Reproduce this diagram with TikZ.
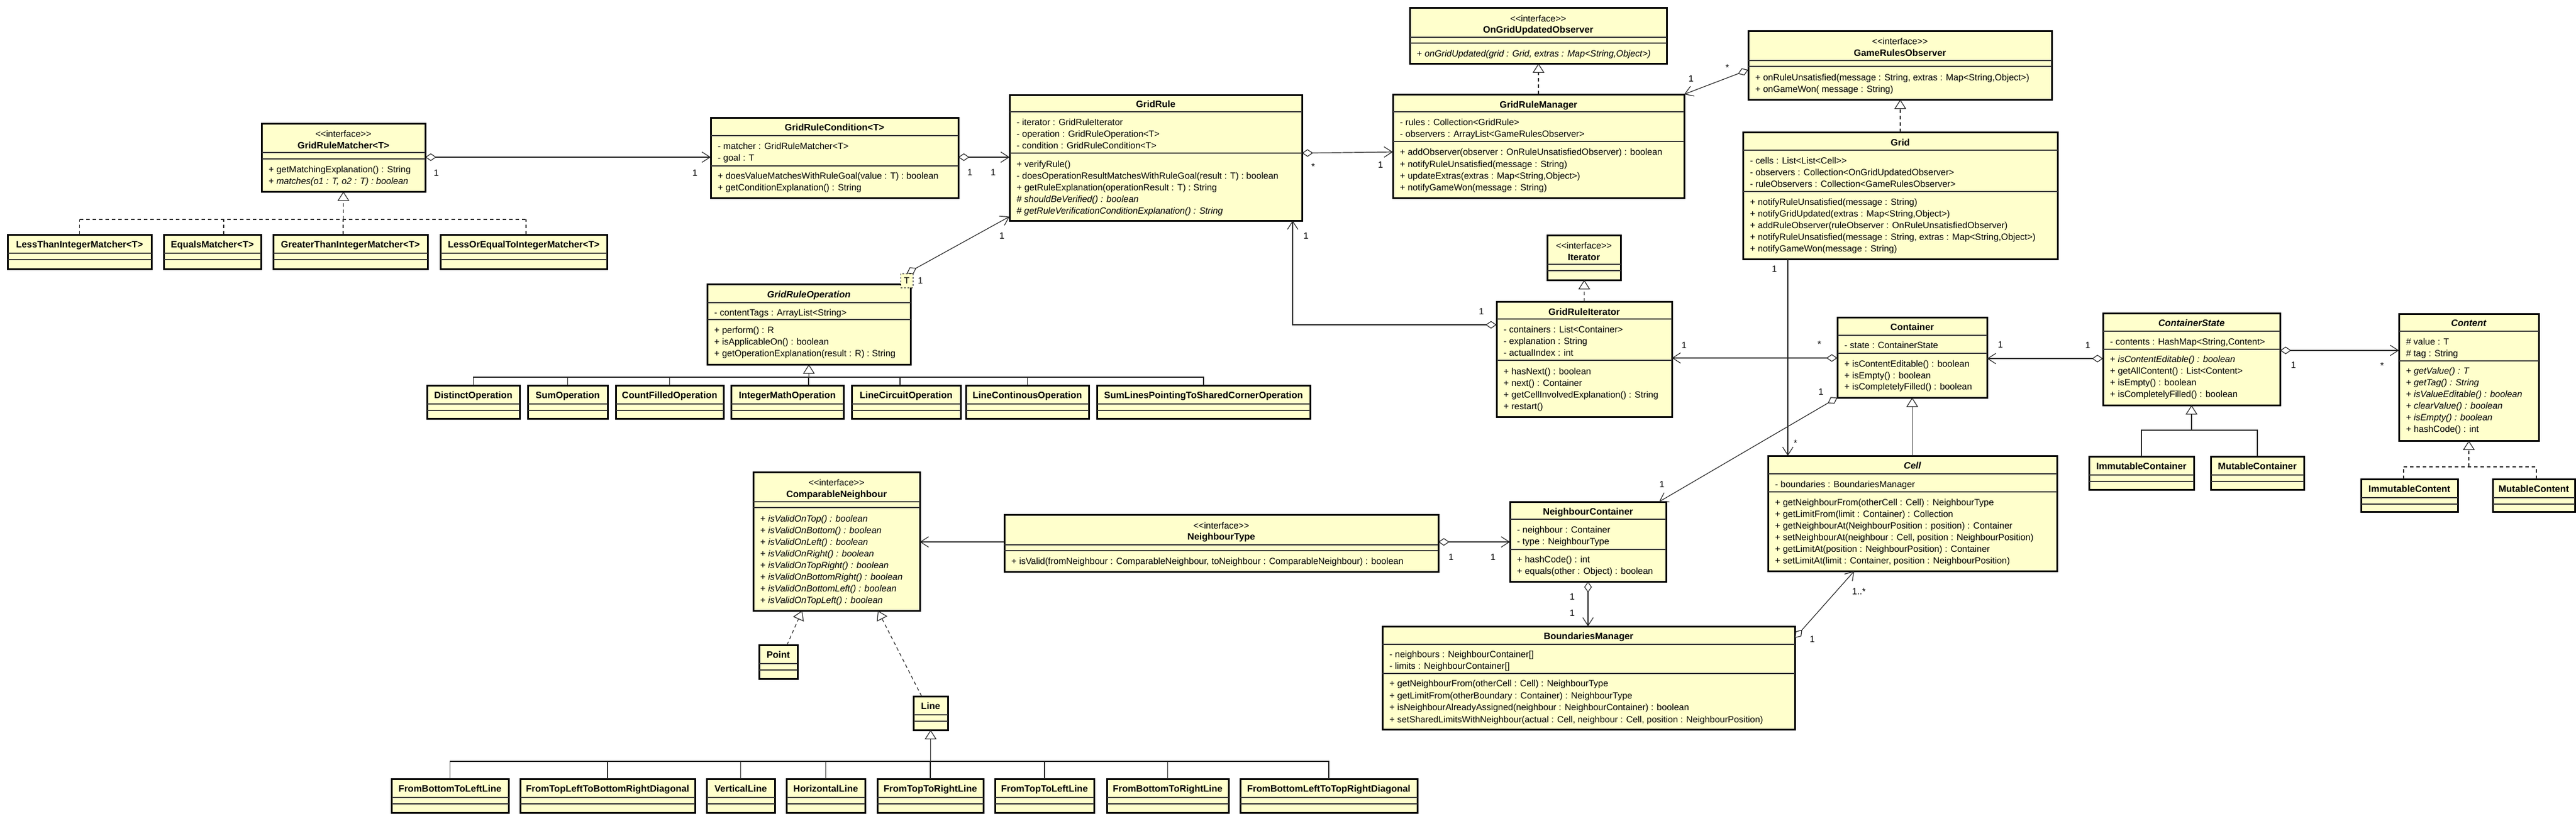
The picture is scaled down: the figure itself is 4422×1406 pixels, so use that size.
\documentclass[tikz,border=0pt]{standalone}
\usepackage{fontspec}
\setmainfont{Liberation Sans}
\usetikzlibrary{arrows.meta}
\definecolor{clsfill}{RGB}{255,255,204}
\tikzset{
  every node/.style={font=\fontsize{15.5pt}{18pt}\selectfont},
  cbox/.style={draw=black, line width=3pt, fill=clsfill, rectangle, inner sep=0pt, outer sep=0pt},
  divl/.style={draw=black!80, line width=1.3pt},
  ltxt/.style={inner sep=0pt, anchor=base west},
  ctxt/.style={inner sep=0pt, anchor=base},
  labtxt/.style={inner sep=0pt, anchor=center},
  conn/.style={draw=black!85, line width=1.2pt},
  nav/.style={conn, -{Straight Barb[length=14pt,width=18pt]}},
  agg/.style={conn, {Diamond[length=19pt,width=13pt,fill=white]}-{Straight Barb[length=14pt,width=18pt]}},
  gen/.style={conn, -{Triangle[length=16pt,width=20pt,fill=white]}},
  real/.style={gen, dash pattern=on 6pt off 5pt},
  dtree/.style={conn, dash pattern=on 6pt off 5pt},
  tparam/.style={draw=black, dashed, line width=1pt, fill=clsfill, minimum width=21pt, minimum height=24pt, inner sep=0pt}
}
\newcommand\umlname[1]{{\fontsize{16pt}{18pt}\selectfont\textbf{#1}}}
\newcommand\umlbox[5]{\node[cbox, minimum width={(#4-#2)*1pt}, minimum height={(#5-#3)*1pt}] (#1) at ({(#2+#4)/2},{(#3+#5)/2}) {};}
\newcommand\umldiv[2]{\draw[divl] (#1.west |- 0,#2) -- (#1.east |- 0,#2);}
\newcommand\umltxt[4]{\node[ltxt, xshift=12pt, yshift=-5.5pt] (#1) at (#2.west |- 0,#3) {#4};}
\newcommand\umlctr[4]{\node[ctxt, yshift=-5.5pt] (#1) at (#2.center |- 0,#3) {#4};}
\newcommand\umllab[4]{\node[labtxt] (#1) at (#2,#3) {#4};}
\newcommand\umlsimple[6]{\umlbox{#1}{#2}{#3}{#4}{#5}\umldiv{#1}{#3+32}\umldiv{#1}{#3+43}\umlctr{#1N}{#1}{#3+16.5}{\umlname{#6}}}
\begin{document}
\begin{tikzpicture}[x=1pt,y=-1pt]
\path[use as bounding box, fill=white] (0,0) rectangle (4422,1406);

% ---------- GridRuleMatcher
\umlbox{mat}{449}{212}{730}{329}
\umldiv{mat}{262}\umldiv{mat}{273}
\umlctr{matS}{mat}{230}{<{}<interface>{}>}
\umlctr{matN}{mat}{250}{\umlname{GridRuleMatcher<T>}}
\umltxt{matM1}{mat}{291}{+ getMatchingExplanation() : String}
\umltxt{matM2}{mat}{311}{+ \textit{matches(o1 : T, o2 : T) : boolean}}

\umlsimple{ma}{13}{403}{260}{462}{LessThanIntegerMatcher<T>}
\umlsimple{mb}{281}{403}{448}{462}{EqualsMatcher<T>}
\umlsimple{mc}{469}{403}{734}{462}{GreaterThanIntegerMatcher<T>}
\umlsimple{md}{756}{403}{1042}{462}{LessOrEqualToIntegerMatcher<T>}

% ---------- GridRuleCondition
\umlbox{cond}{1220}{202}{1645}{340}
\umlctr{condN}{cond}{219}{\umlname{GridRuleCondition<T>}}
\umldiv{cond}{233}
\umltxt{condA1}{cond}{251}{- matcher : GridRuleMatcher<T>}
\umltxt{condA2}{cond}{271}{- goal : T}
\umldiv{cond}{285}
\umltxt{condM1}{cond}{302}{+ doesValueMatchesWithRuleGoal(value : T) : boolean}
\umltxt{condM2}{cond}{322}{+ getConditionExplanation() : String}

% ---------- GridRule
\umlbox{rule}{1733}{163}{2235}{379}
\umlctr{ruleN}{rule}{179}{\umlname{GridRule}}
\umldiv{rule}{192}
\umltxt{ruleA1}{rule}{210}{- iterator : GridRuleIterator}
\umltxt{ruleA2}{rule}{230}{- operation : GridRuleOperation<T>}
\umltxt{ruleA3}{rule}{250}{- condition : GridRuleCondition<T>}
\umldiv{rule}{263}
\umltxt{ruleM1}{rule}{282}{+ verifyRule()}
\umltxt{ruleM2}{rule}{302}{- doesOperationResultMatchesWithRuleGoal(result : T) : boolean}
\umltxt{ruleM3}{rule}{322}{+ getRuleExplanation(operationResult : T) : String}
\umltxt{ruleM4}{rule}{342}{\textit{\# shouldBeVerified() : boolean}}
\umltxt{ruleM5}{rule}{362}{\textit{\# getRuleVerificationConditionExplanation() : String}}

% ---------- OnGridUpdatedObserver
\umlbox{ogu}{2420}{13}{2861}{109}
\umlctr{oguS}{ogu}{32}{<{}<interface>{}>}
\umlctr{oguN}{ogu}{51}{\umlname{OnGridUpdatedObserver}}
\umldiv{ogu}{64}\umldiv{ogu}{74}
\umltxt{oguM1}{ogu}{92}{+ \textit{onGridUpdated(grid : Grid, extras : Map<String,Object>)}}

% ---------- GridRuleManager
\umlbox{mgr}{2391}{162}{2891}{340}
\umlctr{mgrN}{mgr}{180}{\umlname{GridRuleManager}}
\umldiv{mgr}{192}
\umltxt{mgrA1}{mgr}{210}{- rules : Collection<GridRule>}
\umltxt{mgrA2}{mgr}{230}{- observers : ArrayList<GameRulesObserver>}
\umldiv{mgr}{243}
\umltxt{mgrM1}{mgr}{261}{+ addObserver(observer : OnRuleUnsatisfiedObserver) : boolean}
\umltxt{mgrM2}{mgr}{282}{+ notifyRuleUnsatisfied(message : String)}
\umltxt{mgrM3}{mgr}{302}{+ updateExtras(extras : Map<String,Object>)}
\umltxt{mgrM4}{mgr}{322}{+ notifyGameWon(message : String)}

% ---------- GameRulesObserver
\umlbox{gamobs}{3001}{53}{3522}{171}
\umlctr{gamobsS}{gamobs}{71}{<{}<interface>{}>}
\umlctr{gamobsN}{gamobs}{91}{\umlname{GameRulesObserver}}
\umldiv{gamobs}{104}\umldiv{gamobs}{114}
\umltxt{gamobsM1}{gamobs}{133}{+ onRuleUnsatisfied(message : String, extras : Map<String,Object>)}
\umltxt{gamobsM2}{gamobs}{153}{+ onGameWon( message : String)}

% ---------- Grid
\umlbox{grid}{2992}{227}{3532}{445}
\umlctr{gridN}{grid}{245}{\umlname{Grid}}
\umldiv{grid}{258}
\umltxt{gridA1}{grid}{276}{- cells : List<List<Cell>{}>}
\umltxt{gridA2}{grid}{296}{- observers : Collection<OnGridUpdatedObserver>}
\umltxt{gridA3}{grid}{316}{- ruleObservers : Collection<GameRulesObserver>}
\umldiv{grid}{329}
\umltxt{gridM1}{grid}{347}{+ notifyRuleUnsatisfied(message : String)}
\umltxt{gridM2}{grid}{367}{+ notifyGridUpdated(extras : Map<String,Object>)}
\umltxt{gridM3}{grid}{387}{+ addRuleObserver(ruleObserver : OnRuleUnsatisfiedObserver)}
\umltxt{gridM4}{grid}{407}{+ notifyRuleUnsatisfied(message : String, extras : Map<String,Object>)}
\umltxt{gridM5}{grid}{427}{+ notifyGameWon(message : String)}

% ---------- Iterator
\umlbox{iter}{2656}{404}{2782}{481}
\umlctr{iterS}{iter}{422}{<{}<interface>{}>}
\umlctr{iterN}{iter}{442}{\umlname{Iterator}}
\umldiv{iter}{454}\umldiv{iter}{465}

% ---------- GridRuleIterator
\umlbox{rit}{2569}{518}{2870}{716}
\umlctr{ritN}{rit}{536}{\umlname{GridRuleIterator}}
\umldiv{rit}{548}
\umltxt{ritA1}{rit}{566}{- containers : List<Container>}
\umltxt{ritA2}{rit}{586}{- explanation : String}
\umltxt{ritA3}{rit}{606}{- actualIndex : int}
\umldiv{rit}{619}
\umltxt{ritM1}{rit}{638}{+ hasNext() : boolean}
\umltxt{ritM2}{rit}{658}{+ next() : Container}
\umltxt{ritM3}{rit}{678}{+ getCellInvolvedExplanation() : String}
\umltxt{ritM4}{rit}{698}{+ restart()}

% ---------- Container
\umlbox{cont}{3154}{545}{3411}{683}
\umlctr{contN}{cont}{562}{\umlname{Container}}
\umldiv{cont}{576}
\umltxt{contA1}{cont}{593}{- state : ContainerState}
\umldiv{cont}{607}
\umltxt{contM1}{cont}{625}{+ isContentEditable() : boolean}
\umltxt{contM2}{cont}{645}{+ isEmpty() : boolean}
\umltxt{contM3}{cont}{664}{+ isCompletelyFilled() : boolean}

% ---------- ContainerState
\umlbox{cst}{3610}{538}{3914}{696}
\umlctr{cstN}{cst}{555}{\umlname{\textit{ContainerState}}}
\umldiv{cst}{569}
\umltxt{cstA1}{cst}{587}{- contents : HashMap<String,Content>}
\umldiv{cst}{600}
\umltxt{cstM1}{cst}{617}{+ \textit{isContentEditable() : boolean}}
\umltxt{cstM2}{cst}{637}{+ getAllContent() : List<Content>}
\umltxt{cstM3}{cst}{657}{+ isEmpty() : boolean}
\umltxt{cstM4}{cst}{677}{+ isCompletelyFilled() : boolean}

\umlsimple{ica}{3586}{784}{3766}{841}{ImmutableContainer}
\umlsimple{mca}{3795}{784}{3955}{841}{MutableContainer}

% ---------- Content
\umlbox{cnt}{4118}{539}{4358}{757}
\umlctr{cntN}{cnt}{555}{\umlname{\textit{Content}}}
\umldiv{cnt}{569}
\umltxt{cntA1}{cnt}{587}{\# value : T}
\umltxt{cntA2}{cnt}{607}{\# tag : String}
\umldiv{cnt}{620}
\umltxt{cntM1}{cnt}{637}{+ \textit{getValue() : T}}
\umltxt{cntM2}{cnt}{657}{+ \textit{getTag() : String}}
\umltxt{cntM3}{cnt}{677}{+ \textit{isValueEditable() : boolean}}
\umltxt{cntM4}{cnt}{697}{+ \textit{clearValue() : boolean}}
\umltxt{cntM5}{cnt}{717}{+ \textit{isEmpty() : boolean}}
\umltxt{cntM6}{cnt}{737}{+ hashCode() : int}

\umlsimple{icn}{4053}{823}{4219}{879}{ImmutableContent}
\umlsimple{mcn}{4279}{823}{4420}{879}{MutableContent}

% ---------- Cell
\umlbox{cell}{3035}{783}{3531}{981}
\umlctr{cellN}{cell}{800}{\umlname{\textit{Cell}}}
\umldiv{cell}{814}
\umltxt{cellA1}{cell}{832}{- boundaries : BoundariesManager}
\umldiv{cell}{845}
\umltxt{cellM1}{cell}{863}{+ getNeighbourFrom(otherCell : Cell) : NeighbourType}
\umltxt{cellM2}{cell}{883}{+ getLimitFrom(limit : Container) : Collection}
\umltxt{cellM3}{cell}{903}{+ getNeighbourAt(NeighbourPosition : position) : Container}
\umltxt{cellM4}{cell}{923}{+ setNeighbourAt(neighbour : Cell, position : NeighbourPosition)}
\umltxt{cellM5}{cell}{943}{+ getLimitAt(position : NeighbourPosition) : Container}
\umltxt{cellM6}{cell}{963}{+ setLimitAt(limit : Container, position : NeighbourPosition)}

% ---------- NeighbourContainer
\umlbox{nbc}{2592}{862}{2860}{999}
\umlctr{nbcN}{nbc}{879}{\umlname{NeighbourContainer}}
\umldiv{nbc}{892}
\umltxt{nbcA1}{nbc}{910}{- neighbour : Container}
\umltxt{nbcA2}{nbc}{930}{- type : NeighbourType}
\umldiv{nbc}{944}
\umltxt{nbcM1}{nbc}{961}{+ hashCode() : int}
\umltxt{nbcM2}{nbc}{981}{+ equals(other : Object) : boolean}

% ---------- BoundariesManager
\umlbox{bnd}{2373}{1076}{3081}{1253}
\umlctr{bndN}{bnd}{1093}{\umlname{BoundariesManager}}
\umldiv{bnd}{1107}
\umltxt{bndA1}{bnd}{1124}{- neighbours : NeighbourContainer[]}
\umltxt{bndA2}{bnd}{1144}{- limits : NeighbourContainer[]}
\umldiv{bnd}{1157}
\umltxt{bndM1}{bnd}{1174}{+ getNeighbourFrom(otherCell : Cell) : NeighbourType}
\umltxt{bndM2}{bnd}{1195}{+ getLimitFrom(otherBoundary : Container) : NeighbourType}
\umltxt{bndM3}{bnd}{1215}{+ isNeighbourAlreadyAssigned(neighbour : NeighbourContainer) : boolean}
\umltxt{bndM4}{bnd}{1236}{+ setSharedLimitsWithNeighbour(actual : Cell, neighbour : Cell, position : NeighbourPosition)}

% ---------- ComparableNeighbour
\umlbox{cmp}{1293}{811}{1579}{1049}
\umlctr{cmpS}{cmp}{829}{<{}<interface>{}>}
\umlctr{cmpN}{cmp}{849}{\umlname{ComparableNeighbour}}
\umldiv{cmp}{862}\umldiv{cmp}{872}
\umltxt{cmpM1}{cmp}{891}{+ \textit{isValidOnTop() : boolean}}
\umltxt{cmpM2}{cmp}{911}{+ \textit{isValidOnBottom() : boolean}}
\umltxt{cmpM3}{cmp}{931}{+ \textit{isValidOnLeft() : boolean}}
\umltxt{cmpM4}{cmp}{951}{+ \textit{isValidOnRight() : boolean}}
\umltxt{cmpM5}{cmp}{971}{+ \textit{isValidOnTopRight() : boolean}}
\umltxt{cmpM6}{cmp}{991}{+ \textit{isValidOnBottomRight() : boolean}}
\umltxt{cmpM7}{cmp}{1011}{+ \textit{isValidOnBottomLeft() : boolean}}
\umltxt{cmpM8}{cmp}{1031}{+ \textit{isValidOnTopLeft() : boolean}}

% ---------- NeighbourType
\umlbox{ntp}{1724}{884}{2469}{982}
\umlctr{ntpS}{ntp}{903}{<{}<interface>{}>}
\umlctr{ntpN}{ntp}{922}{\umlname{NeighbourType}}
\umldiv{ntp}{936}\umldiv{ntp}{946}
\umltxt{ntpM1}{ntp}{964}{+ isValid(fromNeighbour : ComparableNeighbour, toNeighbour : ComparableNeighbour) : boolean}

\umlsimple{point}{1303}{1108}{1369}{1166}{Point}
\umlsimple{line}{1568}{1196}{1627}{1254}{Line}

\umlsimple{la}{672}{1338}{873}{1396}{FromBottomToLeftLine}
\umlsimple{lb}{893}{1338}{1193}{1396}{FromTopLeftToBottomRightDiagonal}
\umlsimple{lc}{1213}{1338}{1330}{1396}{VerticalLine}
\umlsimple{ld}{1350}{1338}{1485}{1396}{HorizontalLine}
\umlsimple{le}{1506}{1338}{1688}{1396}{FromTopToRightLine}
\umlsimple{lf}{1708}{1338}{1878}{1396}{FromTopToLeftLine}
\umlsimple{lg}{1900}{1338}{2109}{1396}{FromBottomToRightLine}
\umlsimple{lh}{2129}{1338}{2433}{1396}{FromBottomLeftToTopRightDiagonal}

% ---------- GridRuleOperation
\umlbox{op}{1214}{488}{1563}{626}
\umlctr{opN}{op}{506}{\umlname{\textit{GridRuleOperation}}}
\umldiv{op}{520}
\umltxt{opA1}{op}{537}{- contentTags : ArrayList<String>}
\umldiv{op}{549}
\umltxt{opM1}{op}{567}{+ perform() : R}
\umltxt{opM2}{op}{587}{+ isApplicableOn() : boolean}
\umltxt{opM3}{op}{607}{+ getOperationExplanation(result : R) : String}
\node[tparam] (opT) at (1556.5,482) {T};

\umlsimple{oa}{733}{662}{892}{719}{DistinctOperation}
\umlsimple{ob}{906}{662}{1043}{719}{SumOperation}
\umlsimple{oc}{1057}{662}{1242}{719}{CountFilledOperation}
\umlsimple{od}{1255}{662}{1448}{719}{IntegerMathOperation}
\umlsimple{oe}{1462}{662}{1649}{719}{LineCircuitOperation}
\umlsimple{of}{1658}{662}{1869}{719}{LineContinousOperation}
\umlsimple{og}{1883}{662}{2249}{719}{SumLinesPointingToSharedCornerOperation}

% =========== connectors
\draw[agg] (mat.east |- 0,270) -- (cond.west |- 0,270);
\draw[agg] (cond.east |- 0,270) -- (rule.west |- 0,270);
\draw[agg] (rule.east |- 0,263) -- (mgr.west |- 0,261);
\draw[agg] ([yshift=-8pt]gamobs.west) -- (mgr.north east);
\draw[agg] (rit.west |- 0,558) -| ([xshift=-16pt]rule.south east);
\draw[agg] (opT.north) -- ([yshift=7pt]rule.south west);
\draw[agg] (cont.west |- 0,615) -- (rit.east |- 0,615);
\draw[agg] (cst.west |- 0,616) -- (cont.east |- 0,616);
\draw[agg] (cst.east |- 0,602) -- (cnt.west |- 0,602);
\draw[agg] (cont.south west) -- ([xshift=-12pt]nbc.north east);
\draw[agg] (ntp.east |- 0,931) -- (nbc.west |- 0,931);
\draw[agg] (nbc.south) -- (nbc.south |- bnd.north);
\draw[agg] ([yshift=-20pt]bnd.north east) -- ([xshift=148pt]cell.south west);
\coordinate (gc) at ([xshift=77pt]grid.south west);
\draw[nav] (gc) -- (gc |- cell.north);
\draw[nav] (ntp.west |- 0,931) -- (cmp.east |- 0,931);

\draw[real] (mgr.north) -- (mgr.north |- ogu.south);
\draw[real] (grid.north) -- (grid.north |- gamobs.south);
\draw[real] (rit.north) -- (rit.north |- iter.south);
\draw[real] ([xshift=15pt]point.north) -- ([xshift=-59pt]cmp.south);
\draw[real] ([xshift=-15.5pt]line.north) -- ([xshift=71pt]cmp.south);
\draw[gen] (cont.south |- cell.north) -- (cont.south);

% matcher tree (dashed)
\coordinate (jm) at (mat.south |- 0,377);
\coordinate (mbt) at ([xshift=19.5pt]mb.north);
\coordinate (mct) at ([xshift=-12.5pt]mc.north);
\coordinate (mdt) at ([xshift=4pt]md.north);
\draw[real] (jm) -- (mat.south);
\draw[dtree] (ma.north |- jm) -- (mdt |- jm);
\draw[dtree] (ma.north) -- (ma.north |- jm);
\draw[dtree] (mbt) -- (mbt |- jm);
\draw[dtree] (mct) -- (mct |- jm);
\draw[dtree] (mdt) -- (mdt |- jm);

% operation tree
\coordinate (jo) at (op.south |- 0,648);
\coordinate (odt) at ([xshift=36.5pt]od.north);
\coordinate (oet) at ([xshift=-10.5pt]oe.north);
\draw[gen] (jo) -- (op.south);
\draw[conn] (oa.north) |- (jo);
\draw[conn] (ob.north) |- (jo);
\draw[conn] (oc.north) |- (jo);
\draw[conn] (odt) |- (jo);
\draw[conn] (oet) |- (jo);
\draw[conn] (of.north) |- (jo);
\draw[conn] (og.north) |- (jo);

% line tree
\coordinate (jl) at (line.south |- 0,1308);
\draw[gen] (jl) -- (line.south);
\foreach \c in {la,lb,lc,ld,le,lf,lg,lh} {\draw[conn] (\c.north) |- (jl);}

% container state tree
\coordinate (jc) at (cst.south |- 0,739);
\draw[gen] (jc) -- (cst.south);
\draw[conn] (ica.north) |- (jc);
\draw[conn] (mca.north) |- (jc);

% content tree (dashed)
\coordinate (jt) at (cnt.south |- 0,802);
\coordinate (icnt) at ([xshift=-10pt]icn.north);
\coordinate (mcnt) at ([xshift=4.5pt]mcn.north);
\draw[real] (jt) -- (cnt.south);
\draw[dtree] (icnt |- jt) -- (mcnt |- jt);
\draw[dtree] (icnt) -- (icnt |- jt);
\draw[dtree] (mcnt) -- (mcnt |- jt);

% =========== multiplicities
\umllab{L1}{749}{297}{1}
\umllab{L2}{1193}{297}{1}
\umllab{L3}{1665}{296}{1}
\umllab{L4}{1705}{296}{1}
\umllab{L5}{2254}{286}{*}
\umllab{L6}{2370}{283}{1}
\umllab{L7}{2965}{116}{*}
\umllab{L8}{2903}{135}{1}
\umllab{L9}{3046}{462}{1}
\umllab{L10}{3082}{761}{*}
\umllab{L11}{2543}{535}{1}
\umllab{L12}{2242}{405}{1}
\umllab{L13}{1580}{482}{1}
\umllab{L14}{1720}{405}{1}
\umllab{L15}{2891}{593}{1}
\umllab{L16}{3123}{591}{*}
\umllab{L17}{3434}{592}{1}
\umllab{L18}{3584}{593}{1}
\umllab{L19}{3937}{627}{1}
\umllab{L20}{4089}{628}{*}
\umllab{L21}{3126}{673}{1}
\umllab{L22}{2853}{832}{1}
\umllab{L23}{2491}{957}{1}
\umllab{L24}{2563}{957}{1}
\umllab{L25}{2699}{1025}{1}
\umllab{L26}{2699}{1053}{1}
\umllab{L27}{3191}{1016}{1..*}
\umllab{L28}{3111}{1098}{1}
\end{tikzpicture}
\end{document}
